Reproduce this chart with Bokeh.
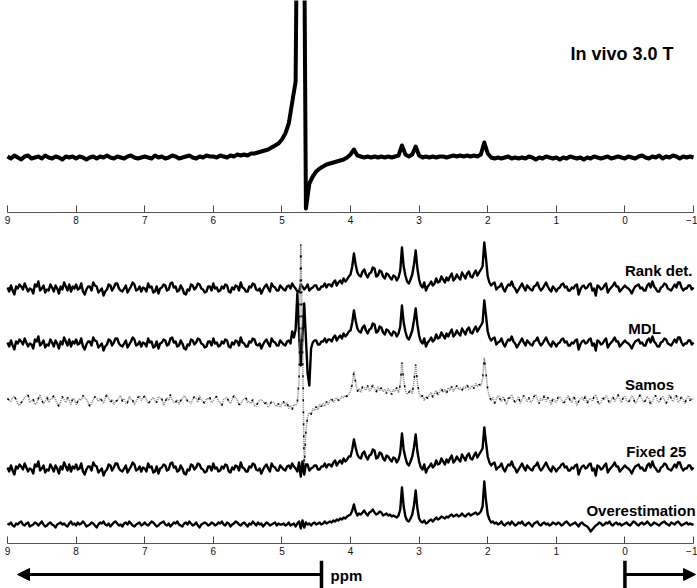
import numpy as np
from bokeh.plotting import figure
from bokeh.layouts import column
from bokeh.models import Range1d, FixedTicker, Label, Arrow, NormalHead
from bokeh.embed import file_html
from bokeh.resources import INLINE

# ---------------- data ----------------
# chemical-shift grid of the top (in vivo) spectrum
ppm_top = [
    9.00, 8.95, 8.90, 8.85, 8.80, 8.75, 8.70, 8.65, 8.60, 8.55, 8.50, 8.45, 8.40, 8.35, 8.30, 8.25, 8.20, 8.15, 8.10, 8.05,
    8.00, 7.95, 7.90, 7.85, 7.80, 7.75, 7.70, 7.65, 7.60, 7.55, 7.50, 7.45, 7.40, 7.35, 7.30, 7.25, 7.20, 7.15, 7.10, 7.05,
    7.00, 6.95, 6.90, 6.85, 6.80, 6.75, 6.70, 6.65, 6.60, 6.55, 6.50, 6.45, 6.40, 6.35, 6.30, 6.25, 6.20, 6.15, 6.10, 6.05,
    6.00, 5.95, 5.90, 5.85, 5.80, 5.75, 5.70, 5.65, 5.60, 5.55, 5.50, 5.45, 5.40, 5.35, 5.30, 5.25, 5.20, 5.15, 5.10, 5.05,
    5.00, 4.95, 4.90, 4.85, 4.80, 4.75, 4.70, 4.65, 4.60, 4.55, 4.50, 4.45, 4.40, 4.35, 4.30, 4.25, 4.20, 4.15, 4.10, 4.05,
    4.00, 3.95, 3.90, 3.85, 3.80, 3.75, 3.70, 3.65, 3.60, 3.55, 3.50, 3.45, 3.40, 3.35, 3.30, 3.25, 3.20, 3.15, 3.10, 3.05,
    3.00, 2.95, 2.90, 2.85, 2.80, 2.75, 2.70, 2.65, 2.60, 2.55, 2.50, 2.45, 2.40, 2.35, 2.30, 2.25, 2.20, 2.15, 2.10, 2.05,
    2.00, 1.95, 1.90, 1.85, 1.80, 1.75, 1.70, 1.65, 1.60, 1.55, 1.50, 1.45, 1.40, 1.35, 1.30, 1.25, 1.20, 1.15, 1.10, 1.05,
    1.00, 0.95, 0.90, 0.85, 0.80, 0.75, 0.70, 0.65, 0.60, 0.55, 0.50, 0.45, 0.40, 0.35, 0.30, 0.25, 0.20, 0.15, 0.10, 0.05,
    0.00, -0.05, -0.10, -0.15, -0.20, -0.25, -0.30, -0.35, -0.40, -0.45, -0.50, -0.55, -0.60, -0.65, -0.70, -0.75, -0.80, -0.85, -0.90, -0.95,
    -1.00,
]

in_vivo = [
    1, -1, 2, 0, -2, 1, 2, -1, 0, 1, -1, 2, 0, -1, 1, 0, -2, 1, 0, 1,
    -1, 1, 0, -2, 0, 1, -1, 1, 0, 2, 0, -1, 1, 0, -1, 1, 2, 0, -1, 0,
    1, 0, -1, 2, 0, 1, -1, 0, 2, 1, -1, 0, 1, 2, 0, -1, 1, 0, 2, 1,
    1, 0, 2, 1, 0, 2, 1, 3, 2, 3, 2, 4, 4, 5, 6, 7, 8, 10, 12, 14,
    18, 24, 34, 55, 76, 500, 500, -51, -26, -19, -14, -11, -9, -7, -6, -5, -4, -3, -2, 0,
    3, 8, 2, 1, 0, 1, 0, 1, 0, 1, 0, 1, 0, 1, 2, 12, 3, 1, 3, 11,
    2, 0, 1, 0, 1, 0, 1, 1, 0, 1, 2, 1, 2, 1, 2, 1, 2, 1, 3, 15,
    4, 0, -1, 0, -1, 0, 1, -1, 0, -1, 0, -1, 1, 0, -2, 0, -1, 1, 0, -1,
    0, -2, 0, -1, 1, 0, -1, 0, -2, 0, -1, 1, 0, -1, 0, 1, -1, 0, 1, 0,
    -1, 1, 0, -1, 1, 2, 0, -1, 1, 0, 2, -1, 1, 0, 2, 1, -1, 1, 0, 1,
    0,
]

# chemical-shift grid of the five reconstructed spectra
ppm = [
    9.000, 8.975, 8.950, 8.925, 8.900, 8.875, 8.850, 8.825, 8.800, 8.775, 8.750, 8.725, 8.700, 8.675, 8.650, 8.625, 8.600, 8.575, 8.550, 8.525,
    8.500, 8.475, 8.450, 8.425, 8.400, 8.375, 8.350, 8.325, 8.300, 8.275, 8.250, 8.225, 8.200, 8.175, 8.150, 8.125, 8.100, 8.075, 8.050, 8.025,
    8.000, 7.975, 7.950, 7.925, 7.900, 7.875, 7.850, 7.825, 7.800, 7.775, 7.750, 7.725, 7.700, 7.675, 7.650, 7.625, 7.600, 7.575, 7.550, 7.525,
    7.500, 7.475, 7.450, 7.425, 7.400, 7.375, 7.350, 7.325, 7.300, 7.275, 7.250, 7.225, 7.200, 7.175, 7.150, 7.125, 7.100, 7.075, 7.050, 7.025,
    7.000, 6.975, 6.950, 6.925, 6.900, 6.875, 6.850, 6.825, 6.800, 6.775, 6.750, 6.725, 6.700, 6.675, 6.650, 6.625, 6.600, 6.575, 6.550, 6.525,
    6.500, 6.475, 6.450, 6.425, 6.400, 6.375, 6.350, 6.325, 6.300, 6.275, 6.250, 6.225, 6.200, 6.175, 6.150, 6.125, 6.100, 6.075, 6.050, 6.025,
    6.000, 5.975, 5.950, 5.925, 5.900, 5.875, 5.850, 5.825, 5.800, 5.775, 5.750, 5.725, 5.700, 5.675, 5.650, 5.625, 5.600, 5.575, 5.550, 5.525,
    5.500, 5.475, 5.450, 5.425, 5.400, 5.375, 5.350, 5.325, 5.300, 5.275, 5.250, 5.225, 5.200, 5.175, 5.150, 5.125, 5.100, 5.075, 5.050, 5.025,
    5.000, 4.975, 4.950, 4.925, 4.900, 4.875, 4.850, 4.825, 4.800, 4.775, 4.750, 4.725, 4.700, 4.675, 4.650, 4.625, 4.600, 4.575, 4.550, 4.525,
    4.500, 4.475, 4.450, 4.425, 4.400, 4.375, 4.350, 4.325, 4.300, 4.275, 4.250, 4.225, 4.200, 4.175, 4.150, 4.125, 4.100, 4.075, 4.050, 4.025,
    4.000, 3.975, 3.950, 3.925, 3.900, 3.875, 3.850, 3.825, 3.800, 3.775, 3.750, 3.725, 3.700, 3.675, 3.650, 3.625, 3.600, 3.575, 3.550, 3.525,
    3.500, 3.475, 3.450, 3.425, 3.400, 3.375, 3.350, 3.325, 3.300, 3.275, 3.250, 3.225, 3.200, 3.175, 3.150, 3.125, 3.100, 3.075, 3.050, 3.025,
    3.000, 2.975, 2.950, 2.925, 2.900, 2.875, 2.850, 2.825, 2.800, 2.775, 2.750, 2.725, 2.700, 2.675, 2.650, 2.625, 2.600, 2.575, 2.550, 2.525,
    2.500, 2.475, 2.450, 2.425, 2.400, 2.375, 2.350, 2.325, 2.300, 2.275, 2.250, 2.225, 2.200, 2.175, 2.150, 2.125, 2.100, 2.075, 2.050, 2.025,
    2.000, 1.975, 1.950, 1.925, 1.900, 1.875, 1.850, 1.825, 1.800, 1.775, 1.750, 1.725, 1.700, 1.675, 1.650, 1.625, 1.600, 1.575, 1.550, 1.525,
    1.500, 1.475, 1.450, 1.425, 1.400, 1.375, 1.350, 1.325, 1.300, 1.275, 1.250, 1.225, 1.200, 1.175, 1.150, 1.125, 1.100, 1.075, 1.050, 1.025,
    1.000, 0.975, 0.950, 0.925, 0.900, 0.875, 0.850, 0.825, 0.800, 0.775, 0.750, 0.725, 0.700, 0.675, 0.650, 0.625, 0.600, 0.575, 0.550, 0.525,
    0.500, 0.475, 0.450, 0.425, 0.400, 0.375, 0.350, 0.325, 0.300, 0.275, 0.250, 0.225, 0.200, 0.175, 0.150, 0.125, 0.100, 0.075, 0.050, 0.025,
    0.000, -0.025, -0.050, -0.075, -0.100, -0.125, -0.150, -0.175, -0.200, -0.225, -0.250, -0.275, -0.300, -0.325, -0.350, -0.375, -0.400, -0.425, -0.450, -0.475,
    -0.500, -0.525, -0.550, -0.575, -0.600, -0.625, -0.650, -0.675, -0.700, -0.725, -0.750, -0.775, -0.800, -0.825, -0.850, -0.875, -0.900, -0.925, -0.950, -0.975,
    -1.000,
]

rank_det = [
    1, -3, 3, -2, -6, 2, 0, 4, 2, -1, 5, 1, -3, 0, -1, -5, 4, 2, 7, -2, 0, 3, -4, -1, -2, 4, 1, -3, 3, 0, -5, 2, -1, 6, 2, -2, 4, -3, 2, 0,
    4, -1, 0, 5, -3, -6, -1, 2, 2, -2, 6, 3, 2, -4, -2, 0, -7, -3, -1, 4, 3, -2, 1, 5, 5, 0, -2, -3, 0, 3, -4, -1, 2, 6, 4, -2, -1, 2, -3, 1,
    0, -3, 5, 1, 2, -4, -3, 2, -5, 0, 1, 4, 3, -2, -1, 5, 6, 1, 2, -3, -2, 3, 0, -5, -6, -1, -2, 4, 3, -1, 1, 5, 4, 0, -1, -4, -3, 2, 2, -2,
    5, 0, 1, -3, -2, 2, 0, 4, 3, -3, -4, 1, -1, 3, 2, -2, 6, 1, 0, -3, -3, 2, 1, 5, 4, -1, -2, 0, -5, -1, 2, 4, 0, -3, 5, 2, 1, -2, -2, 3,
    1, -1, -2, 2, 3, 0, 5, 2, 0, -3, -3, 4, 2, -1, 1, 4, -2, 0, 1, 3, 3, -1, -1, 2, 2, 5, 1, 4, 4, 2, 6, 8, 3, 6, 8, 5, 10, 7, 9, 12,
    14, 22, 35, 24, 16, 13, 12, 17, 19, 14, 11, 15, 16, 21, 20, 12, 13, 18, 17, 12, 10, 15, 14, 11, 9, 13, 12, 8, 11, 18, 41, 22, 13, 7, 5, 9, 14, 24, 38, 20,
    9, 3, 1, 6, -2, 2, 4, 7, 3, 5, 10, 6, 7, 12, 9, 6, 11, 8, 12, 15, 8, 10, 14, 11, 9, 16, 13, 10, 15, 17, 12, 11, 15, 18, 13, 16, 19, 22, 46, 30,
    12, 6, 3, 5, 6, -1, 1, 2, 5, 0, -3, 1, 4, 3, 7, 2, 0, -4, -1, 2, 5, 1, -2, 3, 1, -1, -2, 2, 3, 6, 1, -2, 0, 3, 6, 2, -1, -3, 2, 0,
    -3, 0, 1, 4, 5, 1, 2, -2, -2, 1, 0, 3, 4, -6, -1, 2, 3, 0, 1, 4, 5, -2, 0, -7, 3, 2, -1, 0, 3, 5, -4, -1, 1, 3, 6, 2, 2, -3, -1, 1,
    3, 1, 0, -2, -5, -1, 2, 3, 4, 0, 1, -2, -2, 3, 5, 1, 7, 2, 0, -3, -3, 1, 2, 5, 4, 0, -1, -2, 1, 4, 1, 6, 6, 1, -2, 0, 0, 3, 3, -1,
    1,
]

mdl = [
    1, -3, 3, -2, -6, 2, 0, 4, 2, -1, 5, 1, -3, 0, -1, -5, 4, 2, 7, -2, 0, 3, -4, -1, -2, 4, 1, -3, 3, 0, -5, 2, -1, 6, 2, -2, 4, -3, 2, 0,
    4, -1, 0, 5, -3, -6, -1, 2, 2, -2, 6, 3, 2, -4, -2, 0, -7, -3, -1, 4, 3, -2, 1, 5, 5, 0, -2, -3, 0, 3, -4, -1, 2, 6, 4, -2, -1, 2, -3, 1,
    0, -3, 5, 1, 2, -4, -3, 2, -5, 0, 1, 4, 3, -2, -1, 5, 6, 1, 2, -3, -2, 3, 0, -5, -6, -1, -2, 4, 3, -1, 1, 5, 4, 0, -1, -4, -3, 2, 2, -2,
    5, 0, 1, -3, -2, 2, 0, 4, 3, -3, -4, 1, -1, 3, 2, -2, 6, 1, 0, -3, -3, 2, 1, 5, 4, -1, -2, 0, -5, -1, 2, 4, 0, -3, 5, 2, 1, -2, -2, 3,
    1, -1, -2, 2, 3, 0, 12, 6, 14, 50, 10, -22, 8, 40, 5, -30, -42, -5, 1, 3, 3, -1, -1, 2, 2, 5, 1, 4, 4, 2, 6, 8, 3, 6, 8, 5, 10, 7, 9, 12,
    13, 21, 33, 23, 15, 12, 11, 16, 18, 13, 10, 14, 15, 20, 19, 11, 12, 17, 16, 11, 9, 14, 13, 10, 8, 12, 11, 7, 10, 17, 38, 21, 12, 6, 4, 8, 13, 23, 35, 19,
    8, 2, 0, 5, -3, 1, 3, 6, 2, 4, 9, 5, 6, 11, 8, 5, 10, 7, 11, 14, 7, 9, 13, 10, 8, 15, 12, 9, 14, 16, 11, 10, 14, 17, 12, 15, 18, 21, 43, 28,
    12, 6, 3, 5, 6, -1, 1, 2, 5, 0, -3, 1, 4, 3, 7, 2, 0, -4, -1, 2, 5, 1, -2, 3, 1, -1, -2, 2, 3, 6, 1, -2, 0, 3, 6, 2, -1, -3, 2, 0,
    -3, 0, 1, 4, 5, 1, 2, -2, -2, 1, 0, 3, 4, -6, -1, 2, 3, 0, 1, 4, 5, -2, 0, -7, 3, 2, -1, 0, 3, 5, -4, -1, 1, 3, 6, 2, 2, -3, -1, 1,
    3, 1, 0, -2, -5, -1, 2, 3, 4, 0, 1, -2, -2, 3, 5, 1, 7, 2, 0, -3, -3, 1, 2, 5, 4, 0, -1, -2, 1, 4, 1, 6, 6, 1, -2, 0, 0, 3, 3, -1,
    1,
]

samos = [
    2, 0, -1, 3, 4, 1, -3, -5, -2, 0, 3, 5, 6, -2, -1, 1, -4, -3, 2, 6, 0, -3, -1, 4, -2, 1, 2, 5, 1, -3, -6, -1, 4, 1, -2, 3, 0, -4, 2, 1,
    -4, -1, 2, 0, 5, 3, 1, -2, -6, -3, 1, 4, 2, -1, 2, 0, -3, 3, 6, 2, -2, 1, -4, -1, 0, 3, 5, -1, 2, -3, -2, 4, 1, 0, -4, -1, 3, 5, 0, 2,
    5, 1, -3, -1, 1, 3, 0, -2, 4, 2, 2, -5, -1, 3, 0, 6, 1, -2, -2, 1, -4, 0, 2, 5, 3, -1, -1, -3, 1, 4, 2, -2, 5, 0, -1, -3, 2, 1, 3, -2,
    0, 3, 4, -1, -2, -5, 1, 2, 3, -1, -3, 1, 5, 2, 1, -4, -4, 0, 2, 3, -2, -1, -3, 1, -5, -6, -2, 0, 1, -1, -3, -2, -7, -4, -1, -2, -4, -6, -3, -7,
    -3, -1, -6, -2, -8, -5, -9, -4, -5, -2, 20, 156, 60, -70, -30, -16, -12, -14, -8, -10, -6, -9, -4, -6, -3, -6, -1, -4, 0, 2, -2, 1, 3, 0, 1, 4, 3, 5, 4, 6,
    10, 16, 29, 18, 9, 12, 8, 14, 13, 10, 15, 9, 11, 16, 12, 8, 14, 10, 13, 9, 11, 7, 12, 10, 6, 11, 9, 13, 8, 16, 38, 20, 10, 6, 8, 11, 7, 19, 36, 18,
    7, 3, 5, 0, 4, 2, 6, 8, 3, 7, 10, 5, 9, 12, 8, 11, 7, 13, 10, 14, 9, 12, 15, 11, 13, 10, 14, 12, 16, 11, 13, 15, 12, 17, 14, 16, 15, 21, 43, 27,
    11, 4, 0, 3, -3, 1, 5, 2, -1, 4, 0, -4, 2, 3, 6, 1, -2, 0, 4, -3, 1, 5, 2, -1, 3, -2, 0, 4, 6, 1, -3, 2, 0, 5, -1, 3, 1, -4, 2, 0,
    -2, 3, 4, 1, -3, -1, 2, 5, 0, -2, 4, 1, -5, -1, 2, 3, 0, 5, -3, 1, 2, -1, 4, 6, 0, -4, -2, 3, 1, 5, 2, -3, 0, 4, -1, 2, 6, 1, -2, 3,
    4, 0, -2, 1, 5, 2, -3, -1, 3, 6, 1, -2, 0, 4, 2, -4, -1, 3, 5, 0, -2, 2, 4, 1, -3, 0, 6, 2, -1, 3, 5, -2, 0, 4, 1, -3, 2, 5, 0, 2,
    1,
]

fixed_25 = [
    1, -3, 3, -2, -6, 2, 0, 4, 2, -1, 5, 1, -3, 0, -1, -5, 4, 2, 7, -2, 0, 3, -4, -1, -2, 4, 1, -3, 3, 0, -5, 2, -1, 6, 2, -2, 4, -3, 2, 0,
    4, -1, 0, 5, -3, -6, -1, 2, 2, -2, 6, 3, 2, -4, -2, 0, -7, -3, -1, 4, 3, -2, 1, 5, 5, 0, -2, -3, 0, 3, -4, -1, 2, 6, 4, -2, -1, 2, -3, 1,
    0, -3, 5, 1, 2, -4, -3, 2, -5, 0, 1, 4, 3, -2, -1, 5, 6, 1, 2, -3, -2, 3, 0, -5, -6, -1, -2, 4, 3, -1, 1, 5, 4, 0, -1, -4, -3, 2, 2, -2,
    5, 0, 1, -3, -2, 2, 0, 4, 3, -3, -4, 1, -1, 3, 2, -2, 6, 1, 0, -3, -3, 2, 1, 5, 4, -1, -2, 0, -5, -1, 2, 4, 0, -3, 5, 2, 1, -2, -2, 3,
    1, -1, -2, 2, 3, 0, 5, 2, 0, -3, 6, -8, 7, -6, 4, 4, -2, 0, 1, 3, 3, -1, -1, 2, 2, 5, 1, 4, 4, 2, 6, 8, 3, 6, 8, 5, 10, 7, 9, 12,
    12, 19, 29, 21, 14, 11, 10, 15, 17, 12, 9, 13, 14, 19, 18, 10, 11, 16, 15, 10, 8, 13, 12, 9, 7, 11, 10, 6, 9, 16, 35, 19, 11, 5, 3, 7, 12, 21, 34, 17,
    7, 1, -1, 4, -4, 0, 2, 5, 1, 3, 8, 4, 5, 10, 7, 4, 9, 6, 10, 13, 6, 8, 12, 9, 7, 14, 11, 8, 13, 15, 10, 9, 13, 16, 11, 14, 17, 20, 41, 26,
    12, 6, 3, 5, 6, -1, 1, 2, 5, 0, -3, 1, 4, 3, 7, 2, 0, -4, -1, 2, 5, 1, -2, 3, 1, -1, -2, 2, 3, 6, 1, -2, 0, 3, 6, 2, -1, -3, 2, 0,
    -3, 0, 1, 4, 5, 1, 2, -2, -2, 1, 0, 3, 4, -6, -1, 2, 3, 0, 1, 4, 5, -2, 0, -7, 3, 2, -1, 0, 3, 5, -4, -1, 1, 3, 6, 2, 2, -3, -1, 1,
    3, 1, 0, -2, -5, -1, 2, 3, 4, 0, 1, -2, -2, 3, 5, 1, 7, 2, 0, -3, -3, 1, 2, 5, 4, 0, -1, -2, 1, 4, 1, 6, 6, 1, -2, 0, 0, 3, 3, -1,
    1,
]

overestimation = [
    1, 0, 2, -1, -2, 1, 0, 2, 3, 0, -1, 1, 2, -2, -1, 0, 2, 1, -1, 1, 3, 0, -2, -1, 1, 2, 0, -1, -3, 0, 1, 2, 0, 1, -1, -2, 1, 3, 0, 1,
    -1, 2, 0, 1, 3, 1, -2, -1, 0, 2, 1, -1, -3, 0, 2, 1, 3, 0, -1, 1, -2, 0, 2, 3, 1, -1, 0, -2, 1, 2, 0, 3, 1, -1, -2, 0, 1, 2, -1, 0,
    2, 0, -1, 1, 3, 2, 0, -2, -1, 1, 2, 3, 0, -1, 1, -2, 0, 2, 1, 3, 0, -1, -2, 1, 2, 0, 3, 1, -1, 0, 2, -1, -3, 0, 1, 2, 1, -1, 0, 2,
    1, -1, 0, 2, 1, 3, 0, -1, 2, 1, -2, 0, 1, 3, 2, 0, -1, 1, 2, 0, -2, 1, 0, 3, 1, -1, 2, 0, 1, -2, 0, 2, 1, -1, 0, 1, 2, -1, 1, 0,
    0, 1, -1, 0, 2, -1, 0, 1, -2, 1, 3, -4, 4, -3, 2, 0, 1, -1, 1, 2, 0, 1, 2, 0, 1, 3, 1, 2, 3, 2, 4, 3, 5, 4, 6, 5, 7, 6, 8, 9,
    10, 14, 20, 13, 9, 11, 10, 12, 14, 11, 9, 12, 13, 15, 12, 10, 11, 13, 12, 9, 10, 11, 9, 10, 8, 9, 8, 7, 9, 15, 37, 18, 8, 4, 3, 6, 10, 19, 34, 16,
    6, 3, 2, 4, 1, 2, 4, 5, 3, 5, 7, 5, 6, 8, 7, 6, 8, 7, 9, 10, 8, 9, 10, 8, 9, 11, 9, 8, 10, 11, 9, 10, 11, 12, 10, 11, 13, 18, 43, 24,
    10, 5, 2, 3, 1, 2, 0, 1, 3, 0, -1, 1, 2, 0, 3, 1, -1, 0, 2, 1, 3, 0, -1, 1, 2, 0, -2, 1, 2, 3, 0, -1, 1, 2, 0, 1, -1, 0, 2, 1,
    0, 2, 1, -1, 0, 2, 3, 1, -1, 0, 1, 2, 0, -2, 1, 2, 0, -1, -2, -4, -7, -5, -3, -1, 0, 2, 1, -1, 0, 2, 1, 3, 0, -1, 1, 2, 0, 1, -1, 0,
    1, 2, 0, -1, 1, 3, 2, 0, -1, 1, 2, 0, 1, 3, 1, -1, 0, 2, 1, 0, -1, 1, 2, 3, 1, 0, -1, 2, 1, 0, 2, 3, 1, -1, 0, 1, 2, 0, 1, 0,
    0,
]

method_names = ["Rank det.", "MDL", "Samos", "Fixed 25", "Overestimation"]
tick_values = [9, 8, 7, 6, 5, 4, 3, 2, 1, 0, -1]
tick_labels = ["9", "8", "7", "6", "5", "4", "3", "2", "1", "0", "\u22121"]
title_text = "In vivo 3.0 T"
axis_title = "ppm"

assert len(in_vivo) == len(ppm_top), len(in_vivo)
for s in (rank_det, mdl, samos, fixed_25, overestimation):
    assert len(s) == len(ppm), len(s)

# ---------------- layout / style ----------------
W = 697
FONT = "Liberation Sans"
x_rng = Range1d(9.102, -1.058)

# vertical offsets of the stacked traces (bottom panel units = px above axis)
offsets = [255, 200, 143, 75, 19]
label_x = [0.0, -0.05, 0.0, -0.02, -1.03]
label_align = ["left", "left", "left", "left", "right"]
label_y = [273, 215, 159, 92, 33]


def base_fig(height, y0, y1, border_bottom, with_axis=True):
    p = figure(width=W, height=height, x_range=x_rng, y_range=Range1d(y0, y1),
               output_backend="svg", toolbar_location=None,
               x_axis_location="below" if with_axis else None, y_axis_location=None,
               min_border_left=0, min_border_right=0, min_border_top=0,
               min_border_bottom=border_bottom)
    p.grid.visible = False
    p.outline_line_color = None
    p.background_fill_color = "white"
    p.border_fill_color = "white"
    if with_axis:
        ax = p.xaxis[0]
        ax.ticker = FixedTicker(ticks=tick_values)
        ax.major_label_overrides = dict(zip(tick_values, tick_labels))
        ax.bounds = (-1, 9)
        ax.major_tick_in = 7
        ax.major_tick_out = 0
        ax.minor_tick_line_color = None
        ax.axis_line_color = "#555555"
        ax.major_tick_line_color = "#444444"
        ax.major_label_text_font = FONT
        ax.major_label_text_font_size = "10px"
        ax.major_label_text_color = "#111111"
        ax.major_label_standoff = 3
    return p


# top panel
p1 = base_fig(236, -55, 157, 24)
p1.line(ppm_top, in_vivo, line_color="black", line_width=4, line_join="round")
p1.add_layout(Label(x=0.793, y=104, text=title_text, text_font=FONT,
                    text_font_style="bold", text_font_size="18px",
                    text_color="black",
                    text_baseline="middle", text_align="left"))

# bottom panel
p2 = base_fig(324, 0, 307, 17)
series = [rank_det, mdl, samos, fixed_25, overestimation]
for name, vals, off, lx, ly, la in zip(method_names, series, offsets,
                                       label_x, label_y, label_align):
    y = np.array(vals, dtype=float) + off
    if name == "Samos":
        p2.line(ppm, y, line_color="#888888", line_width=1.6, line_dash="1 1")
        p2.line(ppm, y, line_color="black", line_width=1.5, line_dash="2 10")
    else:
        p2.line(ppm, y, line_color="black", line_width=2.4, line_join="round")
    p2.add_layout(Label(x=lx, y=ly, text=name, text_font=FONT,
                        text_font_style="bold", text_font_size="15px",
                        text_color="black",
                        text_baseline="middle", text_align=la))

# arrows under the bottom axis
bar_ppm = [4.423, 0.0]
arrow_tip_ppm = [8.854, -1.03]
p3 = base_fig(28, 0, 28, 0, with_axis=False)
p3.segment(x0=bar_ppm, y0=[0, 0], x1=bar_ppm, y1=[28, 28],
           line_color="black", line_width=3.5)
for start, tip in zip(bar_ppm, arrow_tip_ppm):
    p3.add_layout(Arrow(end=NormalHead(size=12, fill_color="black", line_color="black"),
                        x_start=start, y_start=14, x_end=tip, y_end=14,
                        line_color="black", line_width=3))
p3.add_layout(Label(x=4.29, y=13, text=axis_title, text_font=FONT,
                    text_font_style="bold", text_font_size="15px",
                    text_color="black",
                    text_baseline="alphabetic", text_align="left"))

layout = column(p1, p2, p3, spacing=0)
open("out.html", "w").write(file_html(layout, INLINE))
